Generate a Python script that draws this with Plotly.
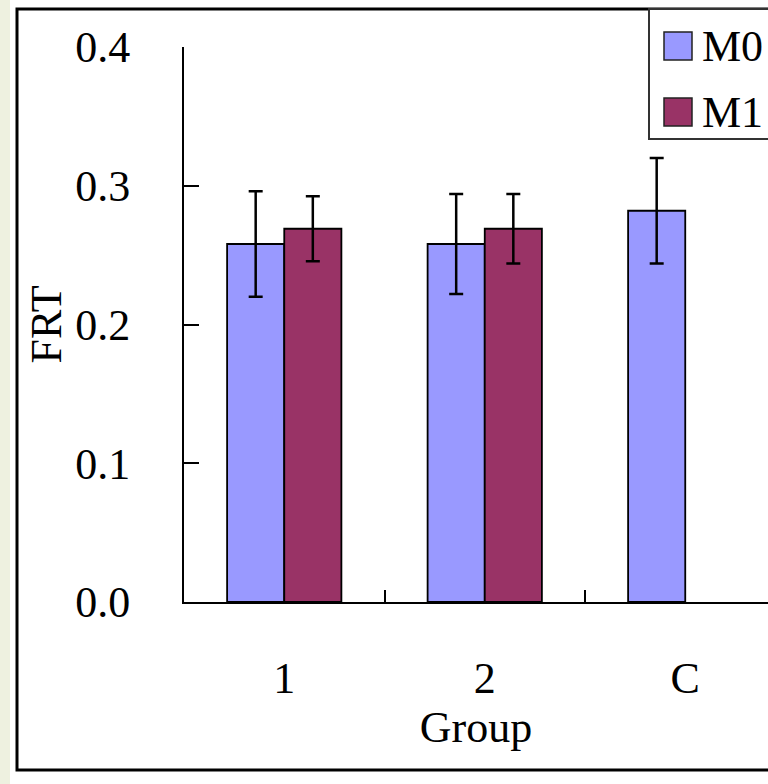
import plotly.graph_objects as go

# ---- data ----
GROUPS = ["1", "2", "C"]
SERIES = ["M0", "M1"]
M0_VALUES = [0.258, 0.258, 0.282]
M0_ERRORS = [0.038, 0.036, 0.038]
M1_VALUES = [0.269, 0.269, None]
M1_ERRORS = [0.0235, 0.025, None]
Y_TICKS = [0.0, 0.1, 0.2, 0.3, 0.4]
COLORS = ["#9999ff", "#993366"]

W, H = 768, 784
L, R, T, B = 184, 0, 47, 182
PW, PH = W - L - R, H - T - B

def px(x):
    return (x - L) / PW

def py(y):
    return (H - B - y) / PH

FONT = "Liberation Serif"
FS = 44

fig = go.Figure()
for name, vals, errs, col in [(SERIES[0], M0_VALUES, M0_ERRORS, COLORS[0]),
                              (SERIES[1], M1_VALUES, M1_ERRORS, COLORS[1])]:
    fig.add_trace(go.Bar(
        x=GROUPS, y=vals, name=name,
        marker=dict(color=col, line=dict(color="black", width=1.8)),
        error_y=dict(type="data", array=errs, visible=True,
                     color="black", thickness=2.5, width=7),
        showlegend=False,
    ))

shapes = []
# light strip at the far left
shapes.append(dict(type="rect", xref="paper", yref="paper", layer="below",
                   x0=px(0), x1=px(10), y0=py(H + 5), y1=py(-5),
                   fillcolor="#eef1e0", line=dict(width=0)))
# outer frame
shapes.append(dict(type="rect", xref="paper", yref="paper", layer="below",
                   x0=px(17), x1=px(800), y0=py(770), y1=py(9),
                   fillcolor="white", line=dict(color="black", width=3)))
# legend box
shapes.append(dict(type="rect", xref="paper", yref="paper", layer="above",
                   x0=px(649), x1=px(800), y0=py(139), y1=py(9),
                   fillcolor="white", line=dict(color="#333333", width=2)))
annotations = []
leg_rows = [46, 112]
for i, (name, col) in enumerate(zip(SERIES, COLORS)):
    yc = leg_rows[i]
    shapes.append(dict(type="rect", xref="paper", yref="paper", layer="above",
                       x0=px(664), x1=px(692), y0=py(yc + 14), y1=py(yc - 14),
                       fillcolor=col, line=dict(color="#222222", width=1.5)))
    annotations.append(dict(xref="paper", yref="paper", x=px(700), y=py(yc),
                            xanchor="left", yanchor="middle", text=name,
                            showarrow=False,
                            font=dict(family=FONT, size=FS, color="black")))

fig.update_layout(
    width=W, height=H,
    margin=dict(l=L, r=R, t=T, b=B, pad=0),
    paper_bgcolor="white", plot_bgcolor="rgba(0,0,0,0)",
    barmode="group", bargap=0.43, bargroupgap=0,
    font=dict(family=FONT, size=FS, color="black"),
    shapes=shapes, annotations=annotations,
    xaxis=dict(
        type="category", range=[-0.5, -0.5 + PW / 200.5],
        showline=True, linecolor="black", linewidth=2,
        ticks="inside", tickson="boundaries", ticklen=12, tickwidth=2,
        tickcolor="black", ticklabelstandoff=36,
        showgrid=False, zeroline=False,
        title=dict(text="Group", standoff=6, font=dict(size=FS)),
        tickfont=dict(size=FS),
    ),
    yaxis=dict(
        range=[0, 0.4], tickvals=Y_TICKS, tickformat=".1f",
        showline=True, linecolor="black", linewidth=2,
        ticks="inside", ticklen=15, tickwidth=2, tickcolor="black",
        ticklabelstandoff=43,
        showgrid=False, zeroline=False,
        title=dict(text="FRT", standoff=0, font=dict(size=FS)),
        tickfont=dict(size=FS),
    ),
)

fig.write_html("out.html")
